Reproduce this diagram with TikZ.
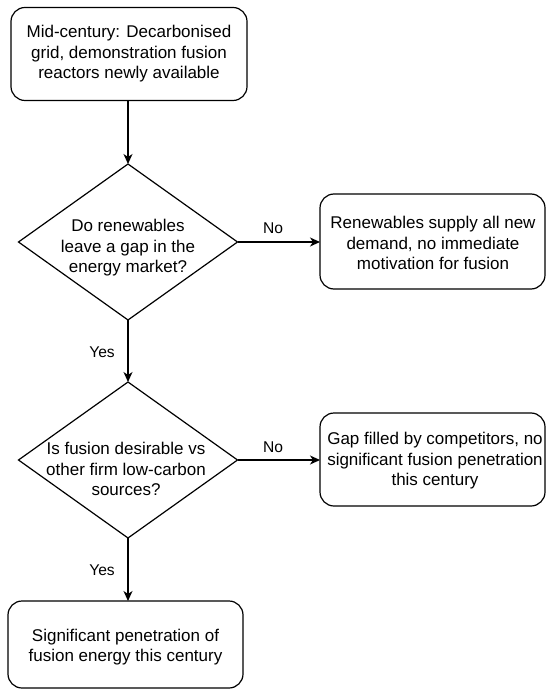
\documentclass[tikz,border=0pt]{standalone}
\usepackage{fontspec}
\setmainfont{Liberation Sans}
\usetikzlibrary{shapes.geometric,arrows.meta}
\begin{document}
\begin{tikzpicture}[x=1pt,y=-1pt,
  every node/.style={inner sep=0pt,outer sep=0pt},
  boxnode/.style={draw,line width=1.2pt,rounded corners=14pt,rectangle},
  decnode/.style={draw,line width=1.2pt,diamond,aspect=1.4},
  txt/.style={align=center,font=\fontsize{17}{20.5}\selectfont},
  lbl/.style={font=\fontsize{15.6}{18}\selectfont},
  conn/.style={line width=1.2pt,-{Stealth[length=10pt,width=9pt,inset=3pt]}}]
\useasboundingbox (0,0) rectangle (546,692);
% boxes
\node[boxnode,minimum width=236pt,minimum height=93pt] (top) at (129,54) {};
\node[txt] (toptxt) at (129,54) {Mid-century: Decarbonised\\grid, demonstration fusion\\reactors newly available};
\node[decnode,minimum width=219pt,minimum height=156pt] (d1) at (128,242) {};
\node[txt] (d1txt) at (128,248) {Do renewables\\leave a gap in the\\energy market?};
\node[boxnode,minimum width=225pt,minimum height=95pt] (r1) at (432.5,241.5) {};
\node[txt] (r1txt) at (433,243) {Renewables supply all new\\demand, no immediate\\motivation for fusion};
\node[decnode,minimum width=219pt,minimum height=156pt] (d2) at (128,460) {};
\node[txt] (d2txt) at (126,469) {Is fusion desirable vs\\other firm low-carbon\\sources?};
\node[boxnode,minimum width=225pt,minimum height=93pt] (r2) at (432.5,459.5) {};
\node[txt] (r2txt) at (435,461) {Gap filled by competitors, no\\significant fusion penetration\\this century};
\node[boxnode,minimum width=235pt,minimum height=87pt] (bot) at (125.5,644.5) {};
\node[txt] (bottxt) at (125.5,647) {Significant penetration of\\fusion energy this century};
% connectors
\draw[conn] (d1.north |- top.south) -- (d1.north);
\draw[conn] (d1.east) -- (d1.east -| r1.west);
\draw[conn] (d1.south) -- (d2.north);
\draw[conn] (d2.east) -- (d2.east -| r2.west);
\draw[conn] (d2.south) -- (d2.south |- bot.north);
% labels
\node[lbl] (no1) at (273,228) {No};
\node[lbl] (no2) at (273,447) {No};
\node[lbl] (yes1) at (102,352) {Yes};
\node[lbl] (yes2) at (102,570) {Yes};
\end{tikzpicture}
\end{document}
